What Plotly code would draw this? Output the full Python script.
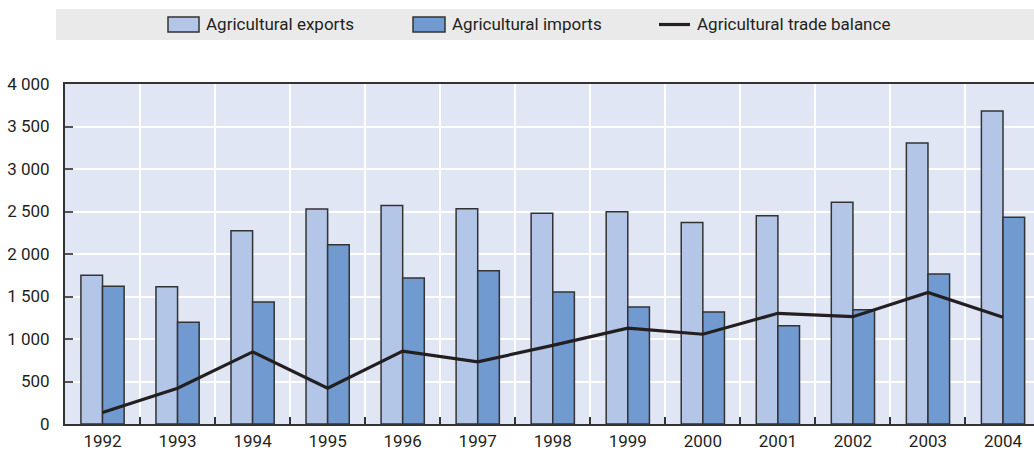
import plotly.graph_objects as go

years = ["1992", "1993", "1994", "1995", "1996", "1997", "1998",
         "1999", "2000", "2001", "2002", "2003", "2004"]
exports = [1750, 1615, 2275, 2530, 2572, 2533, 2478, 2498, 2372, 2451, 2608, 3306, 3682]
imports = [1620, 1196, 1435, 2110, 1718, 1804, 1553, 1376, 1318, 1157, 1345, 1765, 2431]
balance = [135, 420, 848, 422, 857, 731, 925, 1128, 1056, 1302, 1263, 1548, 1255]
y_ticks = [0, 500, 1000, 1500, 2000, 2500, 3000, 3500, 4000]
y_tick_text = ["0", "500", "1 000", "1 500", "2 000", "2 500", "3 000", "3 500", "4 000"]

FONT = "Roboto, Liberation Sans, sans-serif"
FS = 17
C_EXP = "#B3C6E7"
C_IMP = "#709AD0"
C_LINE = "#231F20"
C_EDGE = "#333333"

W, H = 1034, 451
L, R, T, B = 65, 0, 84, 27
PW, PH = W - L - R, H - T - B


def px(x):
    return (x - L) / PW


def py(y):
    return (H - B - y) / PH


fig = go.Figure()
fig.add_trace(go.Bar(x=years, y=exports, name="Agricultural exports",
                     marker=dict(color=C_EXP, line=dict(color=C_EDGE, width=1.5))))
fig.add_trace(go.Bar(x=years, y=imports, name="Agricultural imports",
                     marker=dict(color=C_IMP, line=dict(color=C_EDGE, width=1.5))))
fig.add_trace(go.Scatter(x=years, y=balance, name="Agricultural trade balance",
                         mode="lines", line=dict(color=C_LINE, width=3.2)))

shapes = [
    dict(type="rect", xref="paper", yref="paper", x0=px(56), x1=px(1040), y0=py(40), y1=py(9),
         fillcolor="#EAEAEA", line=dict(width=0), layer="below"),
    dict(type="rect", xref="paper", yref="paper", x0=px(168), x1=px(199), y0=py(32), y1=py(17),
         fillcolor=C_EXP, line=dict(color=C_EDGE, width=1.5)),
    dict(type="rect", xref="paper", yref="paper", x0=px(413), x1=px(445), y0=py(32), y1=py(17),
         fillcolor=C_IMP, line=dict(color=C_EDGE, width=1.5)),
    dict(type="line", xref="paper", yref="paper", x0=px(659), x1=px(690), y0=py(24.5), y1=py(24.5),
         line=dict(color=C_LINE, width=3.2)),
]
annotations = []
for xx, txt in [(204, "Agricultural exports"), (450, "Agricultural imports"),
                (695, "Agricultural trade balance")]:
    annotations.append(dict(x=px(xx), y=py(24.5), xref="paper", yref="paper", text=txt,
                            showarrow=False, xanchor="left", yanchor="middle",
                            font=dict(family=FONT, size=FS, color="#231F20")))

fig.update_layout(
    width=W, height=H,
    margin=dict(l=L, r=R, t=T, b=B, pad=0),
    paper_bgcolor="white", plot_bgcolor="#E0E6F4",
    barmode="group", bargap=0.424, bargroupgap=0,
    showlegend=False,
    font=dict(family=FONT, size=FS, color="#231F20"),
    shapes=shapes, annotations=annotations,
)
fig.update_xaxes(type="category", range=[-0.5, 12.413], tickson="boundaries",
                 ticks="inside", ticklen=7, tickcolor="#333333", tickwidth=1.5,
                 showgrid=True, gridcolor="white", gridwidth=2,
                 showline=True, linecolor="#333333", linewidth=2, mirror=True,
                 ticklabelstandoff=1, automargin=False)
fig.update_yaxes(range=[0, 4000], tickvals=y_ticks, ticktext=y_tick_text,
                 ticks="inside", ticklen=8, tickcolor="#555555", tickwidth=1.5,
                 showgrid=True, gridcolor="white", gridwidth=2,
                 showline=True, linecolor="#333333", linewidth=2, mirror=True,
                 ticklabelstandoff=10, zeroline=False, automargin=False)

fig.write_html("out.html", config={"displayModeBar": False},
               post_script="document.body.style.margin='0';document.body.style.overflow='hidden';")
